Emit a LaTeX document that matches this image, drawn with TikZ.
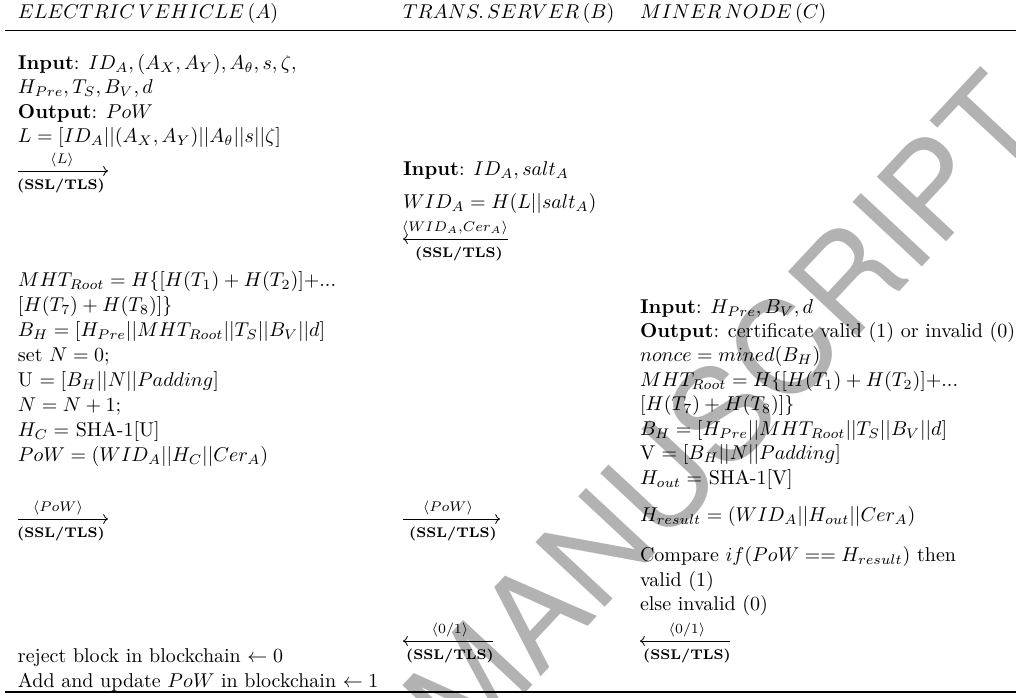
\documentclass[tikz,border=0pt]{standalone}
\usepackage{amsmath}
\usepackage{fontspec}
\newfontfamily\wmfont{TeX Gyre Heros}
\usetikzlibrary{arrows.meta}
\begin{document}
\begin{tikzpicture}[x=0.5pt,y=-0.5pt,
  txt/.style={anchor=base west, inner sep=0pt, outer sep=0pt},
  lbl/.style={anchor=base, inner sep=0pt, font=\scriptsize},
  ssl/.style={anchor=base, inner sep=0pt, font=\scriptsize\bfseries},
  msg/.style={line width=0.4pt, -{To[length=2.4pt,width=5pt]}},
  rulel/.style={line width=0.8pt},
  wmark/.style={rotate=47, text=black!30, inner sep=0pt, font=\wmfont\fontsize{65}{70}\selectfont}]
\useasboundingbox (0,0) rectangle (1016,697);
\clip (0,0) rectangle (1016,697);
\fill[white] (0,0) rectangle (1016,697);

% watermark
\node[wmark] (wm) at (724,411) {MANUSCRIPT};

% headers and rules
\node[txt] (hA) at (18,18) {$ELECTRIC\,VEHICLE\,(A)$};
\node[txt] (hB) at (403,18) {$TRANS.\,SERVER\,(B)$};
\node[txt] (hC) at (640,18) {$MINER\,NODE\,(C)$};
\coordinate (rt1) at (5,30.5); \coordinate (rt2) at (1016,30.5);
\coordinate (rb1) at (5,692); \coordinate (rb2) at (1016,692);
\draw[rulel] (rt1) -- (rt2);
\draw[rulel] (rb1) -- (rb2);

% left column (A)
\node[txt] (a1) at (18,69) {\textbf{Input}: $ID_A, (A_X, A_Y), A_\theta, s, \zeta,$};
\node[txt] (a2) at (18,93) {$H_{Pre}, T_S, B_V, d$};
\node[txt] (a3) at (18,118) {\textbf{Output}: $PoW$};
\node[txt] (a4) at (18,142) {$L = [ID_A||(A_X, A_Y)||A_\theta||s||\zeta]$};
\coordinate (mLs) at (18,171); \coordinate (mLe) at (108,171);
\draw[msg] (mLs) -- (mLe);
\node[lbl] (mLt) at (62,163) {$\langle L\rangle$};
\node[ssl] (mLb) at (61,189) {(SSL/TLS)};

\node[txt] (a5) at (18,286) {$MHT_{Root} = H\{[H(T_1) + H(T_2)]{+}...$};
\node[txt] (a6) at (18,311) {$[H(T_7) + H(T_8)]\}$};
\node[txt] (a7) at (18,336) {$B_H = [H_{Pre}||MHT_{Root}||T_S||B_V||d]$};
\node[txt] (a8) at (18,361) {set $N = 0;$};
\node[txt] (a9) at (18,386) {U $= [B_H||N||Padding]$};
\node[txt] (a10) at (18,411) {$N = N + 1;$};
\node[txt] (a11) at (18,436) {$H_C =$ SHA-1[U]};
\node[txt] (a12) at (18,461) {$PoW = (WID_A||H_C||Cer_A)$};
\coordinate (mP1s) at (18,519); \coordinate (mP1e) at (108,519);
\draw[msg] (mP1s) -- (mP1e);
\node[lbl] (mP1t) at (58,511) {$\langle PoW\rangle$};
\node[ssl] (mP1b) at (61,537) {(SSL/TLS)};
\node[txt] (a13) at (18,662) {reject block in blockchain $\leftarrow 0$};
\node[txt] (a14) at (18,687) {Add and update $PoW$ in blockchain $\leftarrow 1$};

% middle column (B)
\node[txt] (b1) at (403,175) {\textbf{Input}: $ID_A, salt_A$};
\node[txt] (b2) at (403,208) {$WID_A = H(L||salt_A)$};
\coordinate (mWs) at (508,239); \coordinate (mWe) at (403,239);
\draw[msg] (mWs) -- (mWe);
\node[lbl] (mWt) at (455,231) {$\langle WID_A{,}Cer_A\rangle$};
\node[ssl] (mWb) at (459,257) {(SSL/TLS)};
\coordinate (mP2s) at (403,519); \coordinate (mP2e) at (500,519);
\draw[msg] (mP2s) -- (mP2e);
\node[lbl] (mP2t) at (448,511) {$\langle PoW\rangle$};
\node[ssl] (mP2b) at (453,537) {(SSL/TLS)};
\coordinate (mR1s) at (493,641); \coordinate (mR1e) at (403,641);
\draw[msg] (mR1s) -- (mR1e);
\node[lbl] (mR1t) at (450,633) {$\langle 0/1\rangle$};
\node[ssl] (mR1b) at (450,659) {(SSL/TLS)};

% right column (C)
\node[txt] (c1) at (640,313) {\textbf{Input}: $H_{Pre}, B_V, d$};
\node[txt] (c2) at (640,337) {\textbf{Output}: certificate valid (1) or invalid (0)};
\node[txt] (c3) at (640,361) {$nonce = mined(B_H)$};
\node[txt] (c4) at (640,386) {$MHT_{Root} = H\{[H(T_1) + H(T_2)]{+}...$};
\node[txt] (c5) at (640,410) {$[H(T_7) + H(T_8)]\}$};
\node[txt] (c6) at (640,435) {$B_H = [H_{Pre}||MHT_{Root}||T_S||B_V||d]$};
\node[txt] (c7) at (640,459) {V $= [B_H||N||Padding]$};
\node[txt] (c8) at (640,484) {$H_{out} =$ SHA-1[V]};
\node[txt] (c9) at (640,521) {$H_{result} = (WID_A||H_{out}||Cer_A)$};
\node[txt] (c10) at (640,561) {Compare $if(PoW == H_{result})$ then};
\node[txt] (c11) at (640,586) {valid (1)};
\node[txt] (c12) at (640,610) {else invalid (0)};
\coordinate (mR2s) at (730,641); \coordinate (mR2e) at (640,641);
\draw[msg] (mR2s) -- (mR2e);
\node[lbl] (mR2t) at (687,633) {$\langle 0/1\rangle$};
\node[ssl] (mR2b) at (687,659) {(SSL/TLS)};
\end{tikzpicture}
\end{document}
